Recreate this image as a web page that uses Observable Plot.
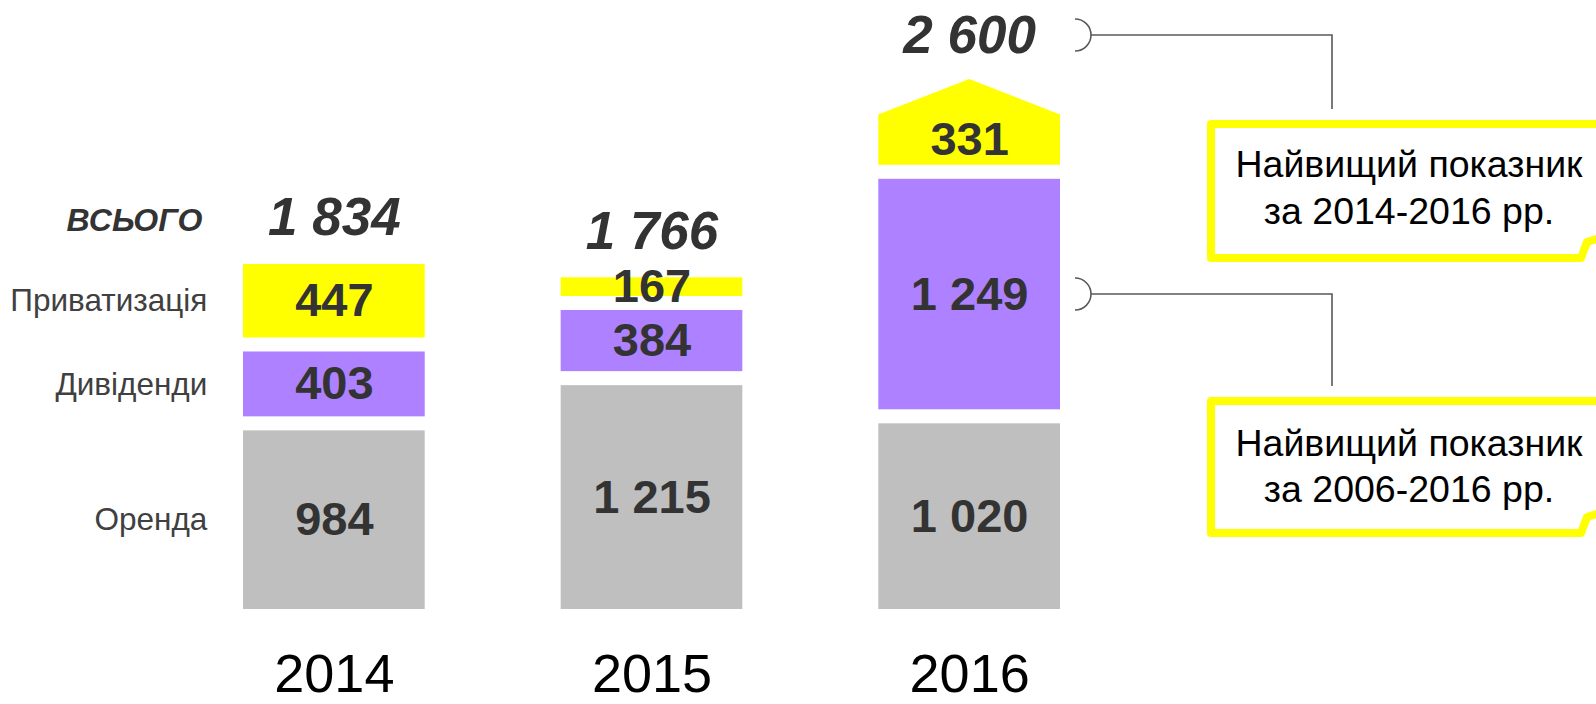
<!DOCTYPE html>
<html>
<head>
<meta charset="utf-8">
<script src="https://cdn.jsdelivr.net/npm/d3@7"></script>
<script src="https://cdn.jsdelivr.net/npm/@observablehq/plot@0.6"></script>
<style>
  html, body { margin: 0; padding: 0; background: #fff; }
  svg { font-family: "Liberation Sans", Arial, sans-serif; }
</style>
</head>
<body>
<script>
// ---- data ----
const years = ["2014", "2015", "2016"];
const seriesNames = ["Оренда", "Дивіденди", "Приватизація"];
const orenda = [984, 1215, 1020];
const dyvidendy = [403, 384, 1249];
const pryvatyzatsia = [447, 167, 331];
const totals = [1834, 1766, 2600];
const seriesColors = ["#BFBFBF", "#AD81FF", "#FFFF00"];
const totalLabel = "ВСЬОГО";
const arrowYears = ["2016"];
const callout1 = ["Найвищий показник", "за 2014-2016 рр."];
const callout2 = ["Найвищий показник", "за 2006-2016 рр."];

// ---- derived table (stacking) ----
const seriesValues = [orenda, dyvidendy, pryvatyzatsia];
const rows = [];
years.forEach((year, i) => {
  let cum = 0;
  seriesNames.forEach((s, j) => {
    const v = seriesValues[j][i];
    rows.push({year, series: s, value: v, y1: cum, y2: cum + v});
    cum += v;
  });
});
const totalRows = years.map((year, i) => ({year, total: totals[i]}));

const fmt = d3.formatLocale({decimal: ",", thousands: " ", grouping: [3], currency: ["", ""]}).format(",d");

const INSET = 7;
const ARROW = 35;
const TOTAL_DY = -22;
const ARROW_TOTAL_DY = -55;
const FONT = "Liberation Sans, Arial, sans-serif";

const chart = Plot.plot({
  width: 1596,
  height: 704,
  marginTop: 0, marginRight: 0, marginBottom: 0, marginLeft: 0,
  style: {fontFamily: FONT, background: "#fff"},
  x: {domain: years, range: [243, 1060], paddingInner: 0.428, paddingOuter: 0, round: false, axis: null},
  y: {domain: [0, 2600], range: [616, 107], axis: null},
  color: {domain: seriesNames, range: seriesColors},
  marks: [
    Plot.barY(rows, {x: "year", y1: "y1", y2: "y2", fill: "series", insetTop: INSET, insetBottom: INSET}),
    // segment values
    Plot.text(rows, {x: "year", y: d => (d.y1 + d.y2) / 2, text: d => fmt(d.value),
      fontSize: 47, fontWeight: "bold", fill: "#333"}),
    // totals (no arrow)
    Plot.text(totalRows.filter(d => !arrowYears.includes(d.year)), {x: "year", y: "total", text: d => fmt(d.total),
      lineAnchor: "bottom", dy: TOTAL_DY, fontSize: 53, fontWeight: "bold", fontStyle: "italic", fill: "#333"}),
    // totals (with arrow)
    Plot.text(totalRows.filter(d => arrowYears.includes(d.year)), {x: "year", y: "total", text: d => fmt(d.total),
      lineAnchor: "bottom", dy: ARROW_TOTAL_DY, fontSize: 53, fontWeight: "bold", fontStyle: "italic", fill: "#333"}),
    // "всього" row label
    Plot.text(totalRows.slice(0, 1), {x: "year", y: "total", text: () => totalLabel,
      lineAnchor: "bottom", dy: TOTAL_DY - 4, dx: -132, textAnchor: "end", fontSize: 32, fontWeight: "bold", fontStyle: "italic", fill: "#333"}),
    // series labels at left, aligned with the first year's segments
    Plot.text(rows.filter(d => d.year === years[0]), {x: "year", y: d => (d.y1 + d.y2) / 2, text: "series",
      dx: -127, textAnchor: "end", fontSize: 31.5, fill: "#404040"}),
    // year labels
    Plot.text(years, {x: d => d, text: d => d, frameAnchor: "bottom", lineAnchor: "bottom", dy: -13,
      fontSize: 54, fill: "#000"})
  ]
});

document.body.appendChild(chart);

// ---- decorations: growth arrow and callouts ----
const svg = d3.select(chart);
const xs = chart.scale("x");
const ys = chart.scale("y");
const bw = xs.bandwidth;

arrowYears.forEach(yr => {
  const i = years.indexOf(yr);
  const x0 = xs.apply(yr);
  const top = ys.apply(totals[i]) + INSET;
  const pts = [[x0, top + 0.5], [x0 + bw / 2, top - ARROW], [x0 + bw, top + 0.5]];
  svg.append("polygon")
    .attr("points", pts.map(p => p.join(",")).join(" "))
    .attr("fill", seriesColors[2]);
});

function callout(anchorY, boxTop, boxBottom, lines, textBaselines) {
  const g = svg.append("g");
  const bx = 1075, lx = 1332, boxLeft = 1211, r = 16;
  g.append("path")
    .attr("d", `M${bx},${anchorY - r} A${r},${r} 0 0 1 ${bx},${anchorY + r}`)
    .attr("fill", "none").attr("stroke", "#595959").attr("stroke-width", 1.6);
  g.append("path")
    .attr("d", `M${bx + r},${anchorY} H${lx} V${boxTop - 15}`)
    .attr("fill", "none").attr("stroke", "#595959").attr("stroke-width", 1.6);
  g.append("path")
    .attr("d", `M1600,${boxTop} H${boxLeft} V${boxBottom} H1581 L1587,${boxBottom - 16} L1600,${boxBottom - 20}`)
    .attr("fill", "none").attr("stroke", "#FFFF00").attr("stroke-width", 8).attr("stroke-linejoin", "round");
  lines.forEach((t, k) => {
    g.append("text")
      .attr("x", 1409).attr("y", textBaselines[k])
      .attr("text-anchor", "middle")
      .attr("font-family", FONT).attr("font-size", 37.5).attr("fill", "#000")
      .text(t);
  });
}

const i16 = years.length - 1;
const totalAnchor = ys.apply(totals[i16]) + ARROW_TOTAL_DY - 17;
const purpleMid = ys.apply(orenda[i16] + dyvidendy[i16] / 2);
callout(totalAnchor, 124, 258, callout1, [177, 224]);
callout(purpleMid, 401, 533, callout2, [456, 502]);
</script>
</body>
</html>
